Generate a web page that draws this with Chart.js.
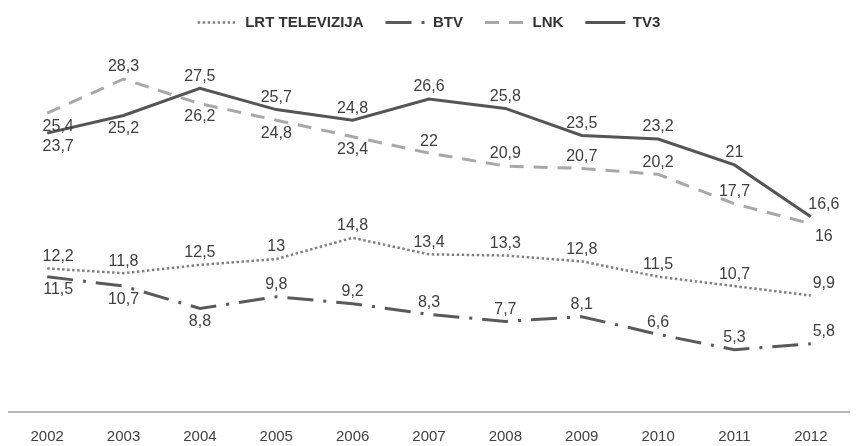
<!DOCTYPE html>
<html>
<head>
<meta charset="utf-8">
<script src="https://cdn.jsdelivr.net/npm/chart.js@4.4.0/dist/chart.umd.min.js"></script>
<style>
  html, body { margin: 0; padding: 0; background: #fff; }
  #wrap { width: 859px; height: 446px; }
</style>
</head>
<body>
<div id="wrap"><canvas id="vis" width="859" height="446"></canvas></div>
<script>
// data
const years = ['2002', '2003', '2004', '2005', '2006', '2007', '2008', '2009', '2010', '2011', '2012'];
const lrt = [12.2, 11.8, 12.5, 13, 14.8, 13.4, 13.3, 12.8, 11.5, 10.7, 9.9];
const btv = [11.5, 10.7, 8.8, 9.8, 9.2, 8.3, 7.7, 8.1, 6.6, 5.3, 5.8];
const lnk = [25.4, 28.3, 26.2, 24.8, 23.4, 22, 20.9, 20.7, 20.2, 17.7, 16];
const tv3 = [23.7, 25.2, 27.5, 25.7, 24.8, 26.6, 25.8, 23.5, 23.2, 21, 16.6];

// where each value label sits: 1 = above the point, -1 = below
const lrtPos = [1, 1, 1, 1, 1, 1, 1, 1, 1, 1, 1];
const btvPos = [-1, -1, -1, 1, 1, 1, 1, 1, 1, 1, 1];
const lnkPos = [-1, 1, -1, -1, -1, 1, 1, 1, 1, 1, -1];
const tv3Pos = [-1, -1, 1, 1, 1, 1, 1, 1, 1, 1, 1];

const FONT = "'Liberation Sans', Arial, sans-serif";

const valueLabels = {
  id: 'valueLabels',
  afterDatasetsDraw(chart) {
    const ctx = chart.ctx;
    const last = chart.data.labels.length - 1;
    ctx.save();
    ctx.font = '16px ' + FONT;
    ctx.fillStyle = '#404040';
    ctx.textAlign = 'center';
    ctx.textBaseline = 'middle';
    chart.data.datasets.forEach((ds, i) => {
      const meta = chart.getDatasetMeta(i);
      meta.data.forEach((pt, j) => {
        const txt = String(ds.data[j]).replace('.', ',');
        const dy = ds.labelPos[j] > 0 ? -12 : 13;
        // end labels sit a little to the right, as in the original
        const dx = j === 0 ? 11 : (j === last ? 13 : 0);
        ctx.fillText(txt, pt.x + dx, pt.y + dy);
      });
    });
    ctx.restore();
  }
};

// a bit of room between legend and plot
const legendGap = {
  id: 'legendGap',
  beforeInit(chart) {
    const fit = chart.legend.fit;
    chart.legend.fit = function () {
      fit.bind(chart.legend)();
      this.height += 19;
    };
  }
};

const ctx = document.getElementById('vis').getContext('2d');
const myChart = new Chart(ctx, {
  type: 'line',
  data: {
    labels: years,
    datasets: [{
      label: 'LRT TELEVIZIJA',
      data: lrt,
      labelPos: lrtPos,
      borderColor: '#808080',
      backgroundColor: '#808080',
      borderWidth: 2.5,
      borderDash: [2.5, 2.5]
    }, {
      label: 'BTV',
      data: btv,
      labelPos: btvPos,
      borderColor: '#5a5a5a',
      backgroundColor: '#5a5a5a',
      borderWidth: 3,
      borderDash: [26, 10, 3, 10]
    }, {
      label: 'LNK',
      data: lnk,
      labelPos: lnkPos,
      borderColor: '#a8a8a8',
      backgroundColor: '#a8a8a8',
      borderWidth: 3,
      borderDash: [14, 10]
    }, {
      label: 'TV3',
      data: tv3,
      labelPos: tv3Pos,
      borderColor: '#555555',
      backgroundColor: '#555555',
      borderWidth: 3
    }]
  },
  options: {
    responsive: false,
    animation: false,
    layout: { padding: { left: 9, right: 10, top: -7, bottom: 2 } },
    elements: {
      point: { radius: 0, hoverRadius: 0 },
      line: { tension: 0, fill: false }
    },
    plugins: {
      legend: {
        position: 'top',
        labels: {
          usePointStyle: true,
          pointStyle: 'line',
          pointStyleWidth: 40,
          padding: 22,
          color: '#333333',
          font: { family: FONT, size: 15, weight: 'bold' },
          generateLabels(chart) {
            const items = Chart.defaults.plugins.legend.labels.generateLabels(chart);
            items.forEach(it => {
              const ds = chart.data.datasets[it.datasetIndex];
              it.lineDash = ds.borderDash || [];
              it.lineWidth = ds.borderWidth;
              it.strokeStyle = ds.borderColor;
            });
            return items;
          }
        }
      },
      tooltip: { enabled: false }
    },
    scales: {
      x: {
        offset: true,
        grid: { display: false, drawTicks: false },
        border: { display: true, color: '#b8b8b8', width: 2 },
        ticks: {
          color: '#404040',
          padding: 16,
          font: { family: FONT, size: 15 }
        },
        afterFit(scale) {
          scale.height -= 18;
        }
      },
      y: {
        display: false,
        min: 0,
        max: 30
      }
    }
  },
  plugins: [valueLabels, legendGap]
});
</script>
</body>
</html>
